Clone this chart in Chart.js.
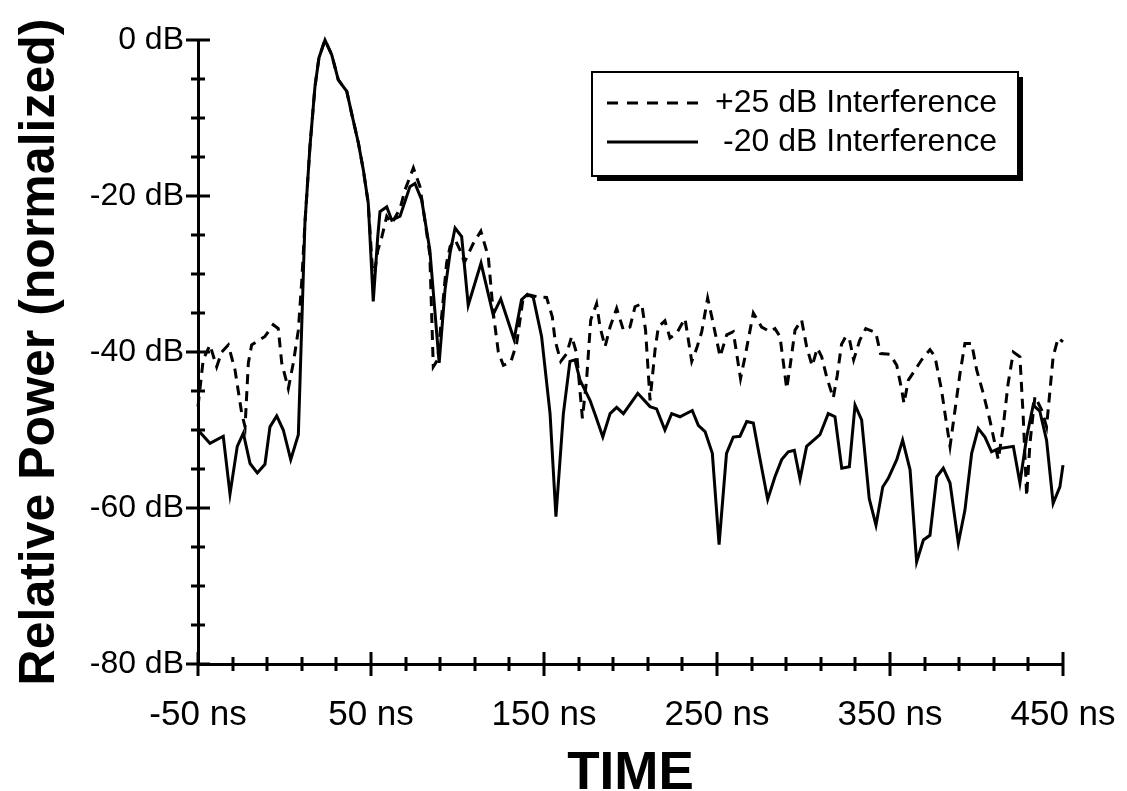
<!DOCTYPE html>
<html>
<head>
<meta charset="utf-8">
<title>Relative Power vs Time</title>
<script src="https://cdn.jsdelivr.net/npm/chart.js@4.4.1/dist/chart.umd.min.js"></script>
<style>
  html, body { margin: 0; padding: 0; background: #fff; }
  #wrap { width: 1127px; height: 791px; }
</style>
</head>
<body>
<div id="wrap"><canvas id="chart" width="1127" height="791"></canvas></div>
<script>
// ============================================================
// Data (time in ns, power in dB)
// ============================================================
const tSolid = [
  -50, -43.1, -35.4, -31.5, -27.3, -23.8, -19.9, -15.7, -11.3, -8.4, -4.5, -0.7, 3.6, 8.0,
  11.8, 14.7, 17.6, 19.9, 23.4, 27.3, 31.1, 36.0, 38.8, 42.7, 45.6, 48.4, 51.3, 53.9, 55.2,
  59.1, 62.0, 66.8, 72.5, 75.4, 79.3, 84.0, 89.4, 92.8, 95.7, 98.6, 102.4, 106.2, 113.6,
  120.6, 125.0, 132.7, 137.0, 140.4, 143.8, 148.6, 153.5, 156.9, 161.2, 165.0, 167.9, 170.8,
  176.6, 180.0, 184.0, 188.2, 192.0, 195.9, 204.2, 211.3, 215.1, 219.9, 223.8, 228.6, 235.7,
  239.2, 243.1, 247.3, 251.2, 255.5, 259.4, 263.3, 267.2, 271.0, 273.9, 279.3, 283.5, 287.4,
  291.2, 294.7, 298.0, 301.8, 309.5, 314.3, 318.2, 322.1, 326.5, 329.8, 333.6, 338.0, 341.9,
  345.8, 349.0, 353.9, 357.3, 361.6, 365.4, 369.3, 373.1, 377.0, 380.8, 384.7, 389.5, 393.3,
  397.2, 401.0, 404.9, 408.7, 412.6, 421.3, 425.1, 429.0, 432.8, 436.6, 440.5, 444.3, 448.2,
  450
];
const powSolid = [
  -50.0, -51.7, -50.8, -58.2, -52.1, -50.4, -54.3, -55.5, -54.4, -49.6, -48.2, -50.0, -53.8, -50.6,
  -23.5, -13.7, -6.0, -2.3, 0, -1.9, -5.1, -6.6, -9.4, -13.2, -16.7, -20.9, -33.5, -25.2, -22.0,
  -21.4, -23.1, -22.6, -18.8, -18.4, -20.5, -26.9, -41.4, -32.0, -27.3, -24.1, -25.2, -34.0, -28.6,
  -35.2, -33.2, -38.4, -33.3, -32.6, -33.0, -38.0, -47.9, -61.1, -47.9, -41.2, -41.0, -43.6,
  -46.2, -48.3, -50.9, -47.9, -47.1, -47.9, -45.3, -47.0, -47.3, -50.0, -47.9, -48.3, -47.5,
  -49.4, -50.2, -53.0, -64.7, -53.0, -50.9, -50.8, -48.9, -49.1, -52.6, -58.9, -56.0, -53.8,
  -52.8, -52.6, -56.3, -52.1, -50.6, -47.9, -48.3, -54.9, -54.7, -46.8, -48.7, -58.8, -62.2,
  -57.3, -56.2, -53.8, -51.3, -55.1, -66.9, -64.1, -63.5, -56.0, -54.9, -56.8, -64.5, -60.3,
  -53.0, -49.8, -50.9, -52.8, -52.4, -52.1, -56.8, -50.9, -46.8, -47.6, -51.3, -59.4, -57.3,
  -54.5
];

const tDashed = [
  -50, -47.0, -43.1, -39.2, -36.3, -32.5, -28.6, -24.7, -22.8, -20.9, -19.0, -11.3, -6.5, -3.6,
  -1.6, 2.2, 5.1, 8.0, 10.0, 11.8, 14.7, 17.6, 19.9, 23.4, 27.3, 31.1, 36.0, 38.8, 42.7, 45.6,
  48.4, 51.3, 53.9, 56.1, 59.1, 62.0, 66.8, 69.7, 74.5, 78.3, 84.0, 86.0, 88.5, 93.7, 95.7,
  98.6, 101.4, 104.0, 109.1, 113.5, 117.8, 120.7, 123.6, 126.5, 130.8, 134.2, 138.0, 141.9,
  145.7, 151.5, 154.8, 156.4, 159.7, 163.1, 166.0, 168.9, 172.2, 174.6, 177.0, 180.4, 182.4,
  185.3, 188.2, 192.0, 195.9, 199.7, 202.6, 206.5, 208.7, 211.3, 214.2, 216.1, 219.9, 222.8,
  226.7, 231.5, 235.4, 238.3, 241.2, 244.6, 247.0, 251.8, 255.6, 259.4, 263.6, 266.2, 271.0,
  275.8, 280.6, 283.5, 286.4, 290.3, 292.2, 295.1, 298.9, 301.8, 305.0, 308.0, 310.5, 313.4,
  317.2, 319.5, 322.0, 324.5, 326.5, 329.0, 332.5, 336.0, 341.8, 344.5, 350.0, 353.9, 356.8,
  358.1, 360.6, 364.5, 368.3, 373.1, 376.0, 379.8, 381.8, 384.7, 387.6, 390.5, 393.3, 397.2,
  400.1, 403.9, 407.7, 412.6, 415.4, 418.3, 421.3, 425.1, 427.0, 429.0, 430.9, 433.8, 437.6,
  440.5, 444.3, 447.2, 450
];
const powDashed = [
  -47.0, -41.0, -39.1, -41.9, -40.0, -39.1, -42.3, -47.9, -49.6, -41.4, -39.1, -38.0, -36.5, -37.0,
  -41.4, -44.7, -41.4, -37.2, -30.8, -23.5, -13.7, -6.0, -2.3, 0, -1.9, -5.1, -6.6, -9.4, -13.2, -16.7,
  -20.9, -31.0, -27.0, -25.4, -22.6, -23.5, -21.6, -19.2, -16.4, -18.8, -27.5, -41.9, -41.0, -28.6, -26.5,
  -25.6, -26.9, -28.5, -26.1, -24.5, -27.8, -35.0, -40.0, -41.7, -41.3, -38.9, -33.0, -32.7,
  -32.9, -33.0, -35.5, -38.5, -41.2, -40.2, -38.0, -40.2, -48.5, -43.6, -35.9, -33.8, -36.8,
  -39.3, -36.8, -34.4, -37.2, -36.8, -34.2, -33.8, -37.2, -46.2, -39.7, -36.8, -36.0, -38.2,
  -37.6, -35.7, -41.2, -39.5, -37.4, -33.1, -35.5, -40.6, -37.8, -37.4, -43.4, -40.6, -35.0,
  -36.8, -37.4, -37.0, -38.0, -44.7, -41.9, -37.2, -35.9, -39.3, -41.8, -39.5, -40.6, -43.2,
  -45.9, -43.0, -39.0, -38.0, -38.3, -41.0, -38.5, -37.0, -37.5, -40.2, -40.3, -41.7, -44.9,
  -46.6, -43.6, -42.3, -41.0, -39.7, -40.6, -44.9, -47.9, -52.1, -47.4, -42.7, -38.9, -38.9,
  -42.3, -45.3, -48.7, -53.8, -49.6, -44.0, -40.0, -40.6, -48.3, -58.5, -51.7, -45.7, -47.4,
  -49.6, -40.6, -38.2, -38.7
];

// ticks: minor every 5 dB / 20 ns, labels on the majors only
const yTicks = [-80, -75, -70, -65, -60, -55, -50, -45, -40, -35, -30, -25, -20, -15, -10, -5, 0];
const yLabelTicks = [-80, -60, -40, -20, 0];
const xTicks = [-50, -30, -10, 10, 30, 50, 70, 90, 110, 130, 150, 170, 190, 210, 230, 250,
                270, 290, 310, 330, 350, 370, 390, 410, 430, 450];
const xLabelTicks = [-50, 50, 150, 250, 350, 450];

const legendItems = ['+25 dB Interference', '-20 dB Interference'];

const pares = (ts, vs) => ts.map((t, i) => ({ x: t, y: vs[i] }));

// ============================================================
// Plugins: ticks crossing the axes + boxed legend with shadow
// ============================================================
const ticksCruzados = {
  id: 'ticksCruzados',
  afterDraw(chart) {
    const { ctx, scales: { x, y } } = chart;
    const x0 = x.left, y0 = y.bottom;
    ctx.save();
    ctx.strokeStyle = '#000';
    ctx.lineWidth = 3;
    ctx.beginPath();
    yTicks.forEach(v => {
      const py = Math.round(y.getPixelForValue(v));
      const len = yLabelTicks.includes(v) ? 12 : 7;
      ctx.moveTo(x0 - len, py); ctx.lineTo(x0 + len, py);
    });
    xTicks.forEach(v => {
      const px = Math.round(x.getPixelForValue(v));
      const len = xLabelTicks.includes(v) ? 12 : 7;
      ctx.moveTo(px, y0 - len); ctx.lineTo(px, y0 + len);
    });
    ctx.stroke();
    ctx.restore();
  }
};

const leyendaCaja = {
  id: 'leyendaCaja',
  afterDraw(chart) {
    const { ctx } = chart;
    const bx = 592, by = 72, bw = 426, bh = 104;
    ctx.save();
    ctx.fillStyle = '#000';
    ctx.fillRect(bx + 5, by + 5, bw, bh);       // drop shadow
    ctx.fillStyle = '#fff';
    ctx.fillRect(bx, by, bw, bh);
    ctx.strokeStyle = '#000';
    ctx.lineWidth = 2;
    ctx.strokeRect(bx, by, bw, bh);

    const rows = [by + 31, by + 70];
    chart.data.datasets.forEach((ds, i) => {
      ctx.beginPath();
      ctx.lineWidth = 3;
      ctx.setLineDash(ds.borderDash ? [11, 9] : []);
      ctx.moveTo(607, rows[i]); ctx.lineTo(698, rows[i]);
      ctx.stroke();
    });
    ctx.setLineDash([]);
    ctx.fillStyle = '#000';
    ctx.font = '32px "Liberation Sans", Arial, sans-serif';
    ctx.textAlign = 'right';
    ctx.textBaseline = 'middle';
    legendItems.forEach((txt, i) => ctx.fillText(txt, 997, rows[i]));
    ctx.restore();
  }
};

// ============================================================
// Chart
// ============================================================
Chart.defaults.font.family = '"Liberation Sans", Arial, Helvetica, sans-serif';
Chart.defaults.color = '#000';

new Chart(document.getElementById('chart'), {
  type: 'line',
  data: {
    datasets: [
      { label: legendItems[0], data: pares(tDashed, powDashed), borderColor: '#000', borderWidth: 3,
        borderDash: [10, 7], pointRadius: 0, tension: 0, clip: false },
      { label: legendItems[1], data: pares(tSolid, powSolid), borderColor: '#000', borderWidth: 3,
        pointRadius: 0, tension: 0, clip: false }
    ]
  },
  options: {
    responsive: false,
    animation: false,
    devicePixelRatio: 1,
    layout: { padding: { left: 0, top: 40, right: 64, bottom: 0 } },
    plugins: { legend: { display: false }, tooltip: { enabled: false } },
    scales: {
      x: {
        type: 'linear', min: -50, max: 450,
        afterFit: s => { s.height = 127; s.paddingLeft = 0; s.paddingRight = 0; },
        afterBuildTicks: s => { s.ticks = xTicks.map(v => ({ value: v })); },
        grid: { display: false, drawTicks: false },
        border: { display: true, color: '#000', width: 3 },
        ticks: {
          autoSkip: false, maxRotation: 0, padding: 30,
          font: { size: 35 },
          callback: v => xLabelTicks.includes(v) ? v + ' ns' : ''
        },
        title: { display: true, text: 'TIME', font: { size: 53, weight: 'bold', lineHeight: 0.64 },
                 padding: { top: 0, bottom: 0 } }
      },
      y: {
        type: 'linear', min: -80, max: 0,
        afterFit: s => { s.width = 198; s.paddingTop = 0; s.paddingBottom = 0; },
        afterBuildTicks: s => { s.ticks = yTicks.map(v => ({ value: v })); },
        grid: { display: false, drawTicks: false },
        border: { display: true, color: '#000', width: 3 },
        ticks: {
          autoSkip: false, padding: 14,
          font: { size: 32 },
          callback: v => yLabelTicks.includes(v) ? v + ' dB' : ''
        },
        title: { display: true, text: 'Relative Power (normalized)',
                 font: { size: 50, weight: 'bold', lineHeight: 1 }, padding: { top: 15, bottom: 0 } }
      }
    }
  },
  plugins: [ticksCruzados, leyendaCaja]
});
</script>
</body>
</html>
